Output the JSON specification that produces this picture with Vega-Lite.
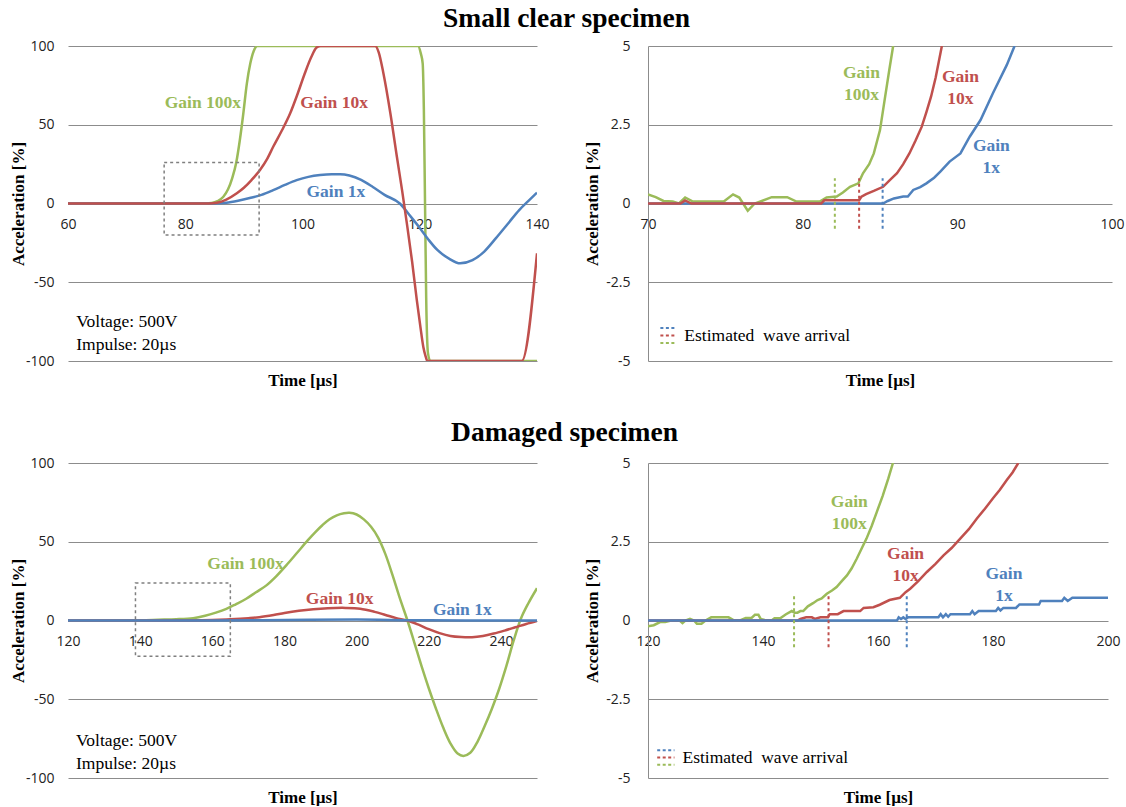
{
"$schema":"https://vega.github.io/schema/vega-lite/v6.json",
"background":"white",
"padding":{"left":9,"top":5,"right":0,"bottom":0},
"config":{
 "view":{"stroke":null},
 "font":"Liberation Serif",
 "axis":{"ticks":false,"labelFont":"Open Sans","labelFontSize":14,"labelColor":"#222","titleFont":"Liberation Serif","titleFontSize":17,"titleFontWeight":"bold","titleColor":"#000","domainColor":"#8c8c8c","gridColor":"#8c8c8c","gridWidth":1,"labelFlush":false},
 "title":{"font":"Liberation Serif","fontSize":27.5,"fontWeight":"bold","anchor":"middle","color":"#000"}
},
"datasets":{
 "tl":[
  {"t":60,"a":0,"g":"Gain 100x"},{"t":83.5,"a":0,"g":"Gain 100x"},{"t":84.5,"a":0.3,"g":"Gain 100x"},{"t":85.5,"a":1.5,"g":"Gain 100x"},{"t":86.5,"a":4.3,"g":"Gain 100x"},{"t":87.3,"a":9,"g":"Gain 100x"},{"t":88,"a":16,"g":"Gain 100x"},{"t":88.7,"a":26,"g":"Gain 100x"},{"t":89.3,"a":40,"g":"Gain 100x"},{"t":89.9,"a":57,"g":"Gain 100x"},{"t":90.5,"a":76,"g":"Gain 100x"},{"t":91.1,"a":89,"g":"Gain 100x"},{"t":91.7,"a":97,"g":"Gain 100x"},{"t":92.3,"a":100,"g":"Gain 100x"},{"t":119.7,"a":100,"g":"Gain 100x"},{"t":120.2,"a":95,"g":"Gain 100x"},{"t":120.5,"a":89,"g":"Gain 100x"},{"t":120.7,"a":60,"g":"Gain 100x"},{"t":120.9,"a":0,"g":"Gain 100x"},{"t":121.1,"a":-60,"g":"Gain 100x"},{"t":121.4,"a":-95,"g":"Gain 100x"},{"t":121.8,"a":-100,"g":"Gain 100x"},{"t":140,"a":-100,"g":"Gain 100x"},
  {"t":60,"a":0,"g":"Gain 1x"},{"t":85,"a":0,"g":"Gain 1x"},{"t":87,"a":0.5,"g":"Gain 1x"},{"t":89,"a":1.8,"g":"Gain 1x"},{"t":91,"a":3.5,"g":"Gain 1x"},{"t":93,"a":5.5,"g":"Gain 1x"},{"t":95,"a":8.5,"g":"Gain 1x"},{"t":97,"a":11.8,"g":"Gain 1x"},{"t":99,"a":14.8,"g":"Gain 1x"},{"t":101,"a":16.9,"g":"Gain 1x"},{"t":103,"a":18.1,"g":"Gain 1x"},{"t":105,"a":18.6,"g":"Gain 1x"},{"t":106.4,"a":18.6,"g":"Gain 1x"},{"t":108,"a":17.8,"g":"Gain 1x"},{"t":110,"a":15,"g":"Gain 1x"},{"t":112,"a":10.5,"g":"Gain 1x"},{"t":114,"a":5.5,"g":"Gain 1x"},{"t":116.6,"a":0,"g":"Gain 1x"},{"t":118.5,"a":-8.5,"g":"Gain 1x"},{"t":120,"a":-15.5,"g":"Gain 1x"},{"t":121.5,"a":-23,"g":"Gain 1x"},{"t":123,"a":-29.5,"g":"Gain 1x"},{"t":125,"a":-35,"g":"Gain 1x"},{"t":126.9,"a":-38,"g":"Gain 1x"},{"t":129,"a":-36,"g":"Gain 1x"},{"t":131,"a":-30.5,"g":"Gain 1x"},{"t":133,"a":-22,"g":"Gain 1x"},{"t":135,"a":-13,"g":"Gain 1x"},{"t":137,"a":-4,"g":"Gain 1x"},{"t":138.5,"a":1.5,"g":"Gain 1x"},{"t":140,"a":6.9,"g":"Gain 1x"},
  {"t":60,"a":0,"g":"Gain 10x"},{"t":84,"a":0,"g":"Gain 10x"},{"t":85.4,"a":0.5,"g":"Gain 10x"},{"t":87,"a":2.5,"g":"Gain 10x"},{"t":88.8,"a":6.5,"g":"Gain 10x"},{"t":90,"a":10,"g":"Gain 10x"},{"t":91.3,"a":14.9,"g":"Gain 10x"},{"t":92.75,"a":21.3,"g":"Gain 10x"},{"t":94,"a":28.5,"g":"Gain 10x"},{"t":95,"a":36,"g":"Gain 10x"},{"t":96.5,"a":46.5,"g":"Gain 10x"},{"t":97.9,"a":57.3,"g":"Gain 10x"},{"t":99.2,"a":70,"g":"Gain 10x"},{"t":100.4,"a":82.7,"g":"Gain 10x"},{"t":101.5,"a":93,"g":"Gain 10x"},{"t":102.4,"a":99,"g":"Gain 10x"},{"t":103.1,"a":100,"g":"Gain 10x"},{"t":112.4,"a":100,"g":"Gain 10x"},{"t":113,"a":96,"g":"Gain 10x"},{"t":113.8,"a":82.7,"g":"Gain 10x"},{"t":115,"a":57,"g":"Gain 10x"},{"t":116.1,"a":29.7,"g":"Gain 10x"},{"t":117,"a":8,"g":"Gain 10x"},{"t":117.8,"a":-12.6,"g":"Gain 10x"},{"t":118.7,"a":-37,"g":"Gain 10x"},{"t":119.5,"a":-61.3,"g":"Gain 10x"},{"t":120.1,"a":-78,"g":"Gain 10x"},{"t":120.6,"a":-90.9,"g":"Gain 10x"},{"t":121,"a":-97,"g":"Gain 10x"},{"t":121.3,"a":-100,"g":"Gain 10x"},{"t":137.4,"a":-100,"g":"Gain 10x"},{"t":140,"a":-31.6,"g":"Gain 10x"}
 ],
 "tr":[
  {"t":70,"a":0.29,"g":"Gain 100x"},{"t":70.5,"a":0.2,"g":"Gain 100x"},{"t":71,"a":0.08,"g":"Gain 100x"},{"t":71.6,"a":0.06,"g":"Gain 100x"},{"t":72,"a":0,"g":"Gain 100x"},{"t":72.4,"a":0.19,"g":"Gain 100x"},{"t":72.9,"a":0.06,"g":"Gain 100x"},{"t":74.9,"a":0.06,"g":"Gain 100x"},{"t":75.5,"a":0.29,"g":"Gain 100x"},{"t":75.9,"a":0.19,"g":"Gain 100x"},{"t":76.45,"a":-0.23,"g":"Gain 100x"},{"t":76.9,"a":0,"g":"Gain 100x"},{"t":78,"a":0.2,"g":"Gain 100x"},{"t":79,"a":0.2,"g":"Gain 100x"},{"t":79.6,"a":0.06,"g":"Gain 100x"},{"t":81.1,"a":0.06,"g":"Gain 100x"},{"t":81.55,"a":0.19,"g":"Gain 100x"},{"t":82.2,"a":0.22,"g":"Gain 100x"},{"t":82.6,"a":0.35,"g":"Gain 100x"},{"t":83.06,"a":0.53,"g":"Gain 100x"},{"t":83.6,"a":0.64,"g":"Gain 100x"},{"t":83.9,"a":0.96,"g":"Gain 100x"},{"t":84.3,"a":1.25,"g":"Gain 100x"},{"t":84.6,"a":1.59,"g":"Gain 100x"},{"t":85,"a":2.33,"g":"Gain 100x"},{"t":85.3,"a":3.29,"g":"Gain 100x"},{"t":85.6,"a":4.24,"g":"Gain 100x"},{"t":85.85,"a":5,"g":"Gain 100x"},
  {"t":70,"a":0,"g":"Gain 1x"},{"t":85.2,"a":0,"g":"Gain 1x"},{"t":85.5,"a":0.08,"g":"Gain 1x"},{"t":85.9,"a":0.16,"g":"Gain 1x"},{"t":86.5,"a":0.22,"g":"Gain 1x"},{"t":86.8,"a":0.22,"g":"Gain 1x"},{"t":87.15,"a":0.43,"g":"Gain 1x"},{"t":87.6,"a":0.52,"g":"Gain 1x"},{"t":88,"a":0.64,"g":"Gain 1x"},{"t":88.5,"a":0.82,"g":"Gain 1x"},{"t":88.9,"a":1.01,"g":"Gain 1x"},{"t":89.5,"a":1.33,"g":"Gain 1x"},{"t":90.2,"a":1.59,"g":"Gain 1x"},{"t":90.8,"a":2.12,"g":"Gain 1x"},{"t":91.5,"a":2.65,"g":"Gain 1x"},{"t":92.3,"a":3.5,"g":"Gain 1x"},{"t":93.2,"a":4.4,"g":"Gain 1x"},{"t":93.7,"a":5,"g":"Gain 1x"},
  {"t":70,"a":0,"g":"Gain 10x"},{"t":72.1,"a":0,"g":"Gain 10x"},{"t":72.4,"a":0.1,"g":"Gain 10x"},{"t":72.8,"a":0,"g":"Gain 10x"},{"t":81.2,"a":0,"g":"Gain 10x"},{"t":81.4,"a":0.1,"g":"Gain 10x"},{"t":83.65,"a":0.1,"g":"Gain 10x"},{"t":83.8,"a":0.22,"g":"Gain 10x"},{"t":84.1,"a":0.3,"g":"Gain 10x"},{"t":84.6,"a":0.4,"g":"Gain 10x"},{"t":85.2,"a":0.53,"g":"Gain 10x"},{"t":85.65,"a":0.75,"g":"Gain 10x"},{"t":86.1,"a":0.96,"g":"Gain 10x"},{"t":86.5,"a":1.25,"g":"Gain 10x"},{"t":86.9,"a":1.59,"g":"Gain 10x"},{"t":87.3,"a":2,"g":"Gain 10x"},{"t":87.7,"a":2.44,"g":"Gain 10x"},{"t":88,"a":2.9,"g":"Gain 10x"},{"t":88.3,"a":3.39,"g":"Gain 10x"},{"t":88.6,"a":4,"g":"Gain 10x"},{"t":89,"a":5,"g":"Gain 10x"}
 ],
 "bl":[
  {"t":120,"a":0,"g":"Gain 100x"},{"t":140,"a":0.2,"g":"Gain 100x"},{"t":145,"a":0.5,"g":"Gain 100x"},{"t":150,"a":0.8,"g":"Gain 100x"},{"t":154.7,"a":1.5,"g":"Gain 100x"},{"t":158,"a":3,"g":"Gain 100x"},{"t":161,"a":5,"g":"Gain 100x"},{"t":163.9,"a":7.4,"g":"Gain 100x"},{"t":166.5,"a":10.3,"g":"Gain 100x"},{"t":169.4,"a":13.8,"g":"Gain 100x"},{"t":172,"a":17.8,"g":"Gain 100x"},{"t":175,"a":22.3,"g":"Gain 100x"},{"t":177.7,"a":28,"g":"Gain 100x"},{"t":180.5,"a":35,"g":"Gain 100x"},{"t":183.5,"a":43,"g":"Gain 100x"},{"t":186.5,"a":51,"g":"Gain 100x"},{"t":188.5,"a":56,"g":"Gain 100x"},{"t":190.5,"a":60.5,"g":"Gain 100x"},{"t":192.5,"a":64.3,"g":"Gain 100x"},{"t":194.5,"a":66.8,"g":"Gain 100x"},{"t":196.5,"a":68.1,"g":"Gain 100x"},{"t":198,"a":68.4,"g":"Gain 100x"},{"t":200,"a":67.3,"g":"Gain 100x"},{"t":202,"a":64.2,"g":"Gain 100x"},{"t":204,"a":59.5,"g":"Gain 100x"},{"t":206,"a":52.5,"g":"Gain 100x"},{"t":208,"a":42,"g":"Gain 100x"},{"t":210,"a":28.5,"g":"Gain 100x"},{"t":212,"a":14,"g":"Gain 100x"},{"t":214.1,"a":0,"g":"Gain 100x"},{"t":216,"a":-14,"g":"Gain 100x"},{"t":218,"a":-29,"g":"Gain 100x"},{"t":220,"a":-43,"g":"Gain 100x"},{"t":222,"a":-56,"g":"Gain 100x"},{"t":224,"a":-68,"g":"Gain 100x"},{"t":226,"a":-78,"g":"Gain 100x"},{"t":228,"a":-84.5,"g":"Gain 100x"},{"t":229.6,"a":-86,"g":"Gain 100x"},{"t":231.5,"a":-84,"g":"Gain 100x"},{"t":233.5,"a":-77,"g":"Gain 100x"},{"t":235.5,"a":-67,"g":"Gain 100x"},{"t":237.5,"a":-56,"g":"Gain 100x"},{"t":239.5,"a":-43.5,"g":"Gain 100x"},{"t":241.5,"a":-29,"g":"Gain 100x"},{"t":243.5,"a":-13,"g":"Gain 100x"},{"t":245.5,"a":1,"g":"Gain 100x"},{"t":247.5,"a":10.5,"g":"Gain 100x"},{"t":250,"a":20.5,"g":"Gain 100x"},
  {"t":120,"a":0,"g":"Gain 10x"},{"t":160,"a":0.3,"g":"Gain 10x"},{"t":165,"a":0.8,"g":"Gain 10x"},{"t":170,"a":1.5,"g":"Gain 10x"},{"t":173,"a":2.1,"g":"Gain 10x"},{"t":177,"a":3.5,"g":"Gain 10x"},{"t":180,"a":4.8,"g":"Gain 10x"},{"t":184,"a":6.2,"g":"Gain 10x"},{"t":188,"a":7.2,"g":"Gain 10x"},{"t":192,"a":7.8,"g":"Gain 10x"},{"t":197,"a":8,"g":"Gain 10x"},{"t":201,"a":7.5,"g":"Gain 10x"},{"t":205,"a":5.5,"g":"Gain 10x"},{"t":208,"a":3.5,"g":"Gain 10x"},{"t":211,"a":1.5,"g":"Gain 10x"},{"t":214,"a":0,"g":"Gain 10x"},{"t":217,"a":-2.5,"g":"Gain 10x"},{"t":220,"a":-5.5,"g":"Gain 10x"},{"t":223,"a":-8,"g":"Gain 10x"},{"t":226,"a":-9.8,"g":"Gain 10x"},{"t":229,"a":-10.5,"g":"Gain 10x"},{"t":232,"a":-10.6,"g":"Gain 10x"},{"t":235,"a":-9.8,"g":"Gain 10x"},{"t":238,"a":-8.3,"g":"Gain 10x"},{"t":241,"a":-6.4,"g":"Gain 10x"},{"t":244,"a":-4.3,"g":"Gain 10x"},{"t":247,"a":-2.2,"g":"Gain 10x"},{"t":250,"a":-0.3,"g":"Gain 10x"},
  {"t":120,"a":0,"g":"Gain 1x"},{"t":160,"a":0,"g":"Gain 1x"},{"t":180,"a":0.3,"g":"Gain 1x"},{"t":200,"a":0.6,"g":"Gain 1x"},{"t":215,"a":0.2,"g":"Gain 1x"},{"t":230,"a":0,"g":"Gain 1x"},{"t":250,"a":0,"g":"Gain 1x"}
 ],
 "br":[
  {"t":120,"a":-0.18,"g":"Gain 100x"},{"t":121,"a":-0.15,"g":"Gain 100x"},{"t":122.1,"a":-0.05,"g":"Gain 100x"},{"t":123,"a":-0.05,"g":"Gain 100x"},{"t":124,"a":0,"g":"Gain 100x"},{"t":125.5,"a":0,"g":"Gain 100x"},{"t":126,"a":-0.08,"g":"Gain 100x"},{"t":126.5,"a":0,"g":"Gain 100x"},{"t":127.3,"a":0.05,"g":"Gain 100x"},{"t":128,"a":0,"g":"Gain 100x"},{"t":128.5,"a":-0.1,"g":"Gain 100x"},{"t":129.3,"a":-0.1,"g":"Gain 100x"},{"t":130,"a":0,"g":"Gain 100x"},{"t":131,"a":0.1,"g":"Gain 100x"},{"t":134,"a":0.1,"g":"Gain 100x"},{"t":134.5,"a":0.05,"g":"Gain 100x"},{"t":135,"a":0,"g":"Gain 100x"},{"t":136,"a":0,"g":"Gain 100x"},{"t":137,"a":0.08,"g":"Gain 100x"},{"t":138,"a":0.08,"g":"Gain 100x"},{"t":138.6,"a":0.18,"g":"Gain 100x"},{"t":139.2,"a":0.18,"g":"Gain 100x"},{"t":139.6,"a":0.05,"g":"Gain 100x"},{"t":140.3,"a":0.02,"g":"Gain 100x"},{"t":141.5,"a":0,"g":"Gain 100x"},{"t":142,"a":0.07,"g":"Gain 100x"},{"t":143,"a":0.07,"g":"Gain 100x"},{"t":144,"a":0.2,"g":"Gain 100x"},{"t":145,"a":0.3,"g":"Gain 100x"},{"t":145.5,"a":0.25,"g":"Gain 100x"},{"t":146,"a":0.25,"g":"Gain 100x"},{"t":146.5,"a":0.3,"g":"Gain 100x"},{"t":147,"a":0.3,"g":"Gain 100x"},{"t":147.8,"a":0.45,"g":"Gain 100x"},{"t":148.7,"a":0.55,"g":"Gain 100x"},{"t":149.5,"a":0.65,"g":"Gain 100x"},{"t":150.2,"a":0.7,"g":"Gain 100x"},{"t":151.1,"a":0.85,"g":"Gain 100x"},{"t":152,"a":0.95,"g":"Gain 100x"},{"t":152.8,"a":1.06,"g":"Gain 100x"},{"t":153.7,"a":1.25,"g":"Gain 100x"},{"t":154.6,"a":1.43,"g":"Gain 100x"},{"t":155.4,"a":1.65,"g":"Gain 100x"},{"t":156.3,"a":1.96,"g":"Gain 100x"},{"t":157.2,"a":2.3,"g":"Gain 100x"},{"t":158,"a":2.6,"g":"Gain 100x"},{"t":158.9,"a":3,"g":"Gain 100x"},{"t":159.8,"a":3.45,"g":"Gain 100x"},{"t":160.8,"a":3.95,"g":"Gain 100x"},{"t":161.8,"a":4.51,"g":"Gain 100x"},{"t":162.6,"a":5,"g":"Gain 100x"},
  {"t":120,"a":0,"g":"Gain 10x"},{"t":146,"a":0,"g":"Gain 10x"},{"t":146.5,"a":0.05,"g":"Gain 10x"},{"t":147.5,"a":0.1,"g":"Gain 10x"},{"t":148.5,"a":0.1,"g":"Gain 10x"},{"t":149,"a":0.05,"g":"Gain 10x"},{"t":150,"a":0.1,"g":"Gain 10x"},{"t":151.3,"a":0.1,"g":"Gain 10x"},{"t":151.6,"a":0.2,"g":"Gain 10x"},{"t":153,"a":0.2,"g":"Gain 10x"},{"t":154,"a":0.3,"g":"Gain 10x"},{"t":156.9,"a":0.3,"g":"Gain 10x"},{"t":157.5,"a":0.4,"g":"Gain 10x"},{"t":159.2,"a":0.42,"g":"Gain 10x"},{"t":160.3,"a":0.5,"g":"Gain 10x"},{"t":162,"a":0.65,"g":"Gain 10x"},{"t":163.8,"a":0.72,"g":"Gain 10x"},{"t":164.8,"a":0.9,"g":"Gain 10x"},{"t":165.6,"a":1.01,"g":"Gain 10x"},{"t":167,"a":1.25,"g":"Gain 10x"},{"t":168.5,"a":1.54,"g":"Gain 10x"},{"t":170,"a":1.8,"g":"Gain 10x"},{"t":171.4,"a":2.07,"g":"Gain 10x"},{"t":172.8,"a":2.3,"g":"Gain 10x"},{"t":174.3,"a":2.6,"g":"Gain 10x"},{"t":175.8,"a":2.9,"g":"Gain 10x"},{"t":177.2,"a":3.24,"g":"Gain 10x"},{"t":178.6,"a":3.55,"g":"Gain 10x"},{"t":180,"a":3.88,"g":"Gain 10x"},{"t":181.2,"a":4.15,"g":"Gain 10x"},{"t":182.4,"a":4.46,"g":"Gain 10x"},{"t":183.4,"a":4.7,"g":"Gain 10x"},{"t":184.4,"a":5,"g":"Gain 10x"},
  {"t":120,"a":0,"g":"Gain 1x"},{"t":163.3,"a":0,"g":"Gain 1x"},{"t":163.6,"a":0.1,"g":"Gain 1x"},{"t":164,"a":0.05,"g":"Gain 1x"},{"t":164.4,"a":0.1,"g":"Gain 1x"},{"t":164.8,"a":0.05,"g":"Gain 1x"},{"t":165.2,"a":0.1,"g":"Gain 1x"},{"t":170.5,"a":0.1,"g":"Gain 1x"},{"t":170.9,"a":0.2,"g":"Gain 1x"},{"t":171.3,"a":0.1,"g":"Gain 1x"},{"t":171.8,"a":0.2,"g":"Gain 1x"},{"t":172.2,"a":0.12,"g":"Gain 1x"},{"t":172.6,"a":0.2,"g":"Gain 1x"},{"t":176,"a":0.2,"g":"Gain 1x"},{"t":176.4,"a":0.3,"g":"Gain 1x"},{"t":176.8,"a":0.2,"g":"Gain 1x"},{"t":177.5,"a":0.3,"g":"Gain 1x"},{"t":180.5,"a":0.3,"g":"Gain 1x"},{"t":180.9,"a":0.4,"g":"Gain 1x"},{"t":181.3,"a":0.32,"g":"Gain 1x"},{"t":181.8,"a":0.4,"g":"Gain 1x"},{"t":184,"a":0.4,"g":"Gain 1x"},{"t":184.6,"a":0.51,"g":"Gain 1x"},{"t":188,"a":0.51,"g":"Gain 1x"},{"t":188.3,"a":0.62,"g":"Gain 1x"},{"t":192,"a":0.62,"g":"Gain 1x"},{"t":192.4,"a":0.72,"g":"Gain 1x"},{"t":193,"a":0.62,"g":"Gain 1x"},{"t":193.8,"a":0.72,"g":"Gain 1x"},{"t":200,"a":0.72,"g":"Gain 1x"}
 ],
 "tlLab":[{"t":83,"a":63.8,"label":"Gain 100x","g":"Gain 100x"},{"t":105.4,"a":63.8,"label":"Gain 10x","g":"Gain 10x"},{"t":105.7,"a":7.3,"label":"Gain 1x","g":"Gain 1x"}],
 "trLab":[{"t":83.8,"a":4.14,"label":"Gain\n100x","g":"Gain 100x"},{"t":90.2,"a":4.03,"label":"Gain\n10x","g":"Gain 10x"},{"t":92.2,"a":1.83,"label":"Gain\n1x","g":"Gain 1x"}],
 "blLab":[{"t":169.2,"a":35.7,"label":"Gain 100x","g":"Gain 100x"},{"t":195.3,"a":13.4,"label":"Gain 10x","g":"Gain 10x"},{"t":229.3,"a":6.4,"label":"Gain 1x","g":"Gain 1x"}],
 "brLab":[{"t":155,"a":3.75,"label":"Gain\n100x","g":"Gain 100x"},{"t":164.8,"a":2.12,"label":"Gain\n10x","g":"Gain 10x"},{"t":181.9,"a":1.47,"label":"Gain\n1x","g":"Gain 1x"}],
 "trArr":[{"t":82.08,"a":-0.8,"a2":0.8,"g":"Gain 100x"},{"t":83.65,"a":-0.8,"a2":0.8,"g":"Gain 10x"},{"t":85.17,"a":-0.8,"a2":0.8,"g":"Gain 1x"}],
 "brArr":[{"t":145.4,"a":-0.85,"a2":0.78,"g":"Gain 100x"},{"t":151.4,"a":-0.85,"a2":0.78,"g":"Gain 10x"},{"t":165,"a":-0.85,"a2":0.78,"g":"Gain 1x"}],
 "trLeg":[{"t":70.8,"t2":71.8,"a":-3.95,"g":"Gain 1x"},{"t":70.8,"t2":71.8,"a":-4.19,"g":"Gain 10x"},{"t":70.8,"t2":71.8,"a":-4.43,"g":"Gain 100x"}],
 "brLeg":[{"t":121.6,"t2":124.6,"a":-4.12,"g":"Gain 1x"},{"t":121.6,"t2":124.6,"a":-4.35,"g":"Gain 10x"},{"t":121.6,"t2":124.6,"a":-4.58,"g":"Gain 100x"}]
},
"spacing":30,
"vconcat":[
 {"title":{"text":"Small clear specimen","offset":6.5},"spacing":33,"hconcat":[
  {"width":469,"height":315,
   "encoding":{
    "x":{"field":"t","type":"quantitative","scale":{"domain":[60,140],"nice":false,"zero":false},"axis":{"values":[60,80,100,120,140],"offset":-157.5,"grid":false,"domain":false,"labelPadding":14,"title":"Time [µs]","titleY":177,"titleBaseline":"middle"}},
    "y":{"field":"a","type":"quantitative","scale":{"domain":[-100,100],"nice":false},"axis":{"values":[-100,-50,0,50,100],"grid":true,"domain":false,"labelPadding":14,"title":"Acceleration [%]","titleX":-50,"titleBaseline":"middle","labelExpr":"datum.value < 0 ? '-' + (-datum.value) : '' + datum.value"}}
   },
   "layer":[
    {"data":{"name":"tl"},"mark":{"type":"line","strokeWidth":2.5,"clip":true,"interpolate":"monotone"},"encoding":{"color":{"field":"g","type":"nominal","scale":{"domain":["Gain 1x","Gain 10x","Gain 100x"],"range":["#4F81BD","#C0504D","#9BBB59"]},"legend":null}}},
    {"data":{"values":[{"t":76.4,"t2":92.6,"a":-20,"a2":26}]},"mark":{"type":"rect","fillOpacity":0,"stroke":"#7f7f7f","strokeWidth":1.5,"strokeDash":[3,3]},"encoding":{"x2":{"field":"t2"},"y2":{"field":"a2"}}},
    {"data":{"name":"tlLab"},"mark":{"type":"text","font":"Liberation Serif","fontWeight":"bold","fontSize":17.5},"encoding":{"text":{"field":"label"},"color":{"field":"g","type":"nominal","scale":{"domain":["Gain 1x","Gain 10x","Gain 100x"],"range":["#4F81BD","#C0504D","#9BBB59"]},"legend":null}}},
    {"data":{"values":[{"t":61.4,"a":-75.2,"label":"Voltage: 500V\nImpulse: 20µs"}]},"mark":{"type":"text","font":"Liberation Serif","fontSize":17.5,"align":"left","lineBreak":"\n","lineHeight":23,"color":"#000"},"encoding":{"text":{"field":"label"}}}
   ]},
  {"width":464,"height":315,
   "encoding":{
    "x":{"field":"t","type":"quantitative","scale":{"domain":[70,100],"nice":false,"zero":false},"axis":{"values":[70,80,90,100],"offset":-157.5,"grid":false,"domain":false,"labelPadding":14,"title":"Time [µs]","titleY":177,"titleBaseline":"middle"}},
    "y":{"field":"a","type":"quantitative","scale":{"domain":[-5,5],"nice":false},"axis":{"values":[-5,-2.5,0,2.5,5],"grid":true,"domain":true,"labelPadding":18,"title":"Acceleration [%]","titleX":-55.5,"titleBaseline":"middle","labelExpr":"datum.value < 0 ? '-' + (-datum.value) : '' + datum.value"}}
   },
   "layer":[
    {"data":{"name":"tr"},"mark":{"type":"line","strokeWidth":2.5,"clip":true},"encoding":{"color":{"field":"g","type":"nominal","scale":{"domain":["Gain 1x","Gain 10x","Gain 100x"],"range":["#4F81BD","#C0504D","#9BBB59"]},"legend":null}}},
    {"data":{"name":"trArr"},"mark":{"type":"rule","strokeWidth":2,"strokeDash":[3,3]},"encoding":{"y2":{"field":"a2"},"color":{"field":"g","type":"nominal","scale":{"domain":["Gain 1x","Gain 10x","Gain 100x"],"range":["#4F81BD","#C0504D","#9BBB59"]},"legend":null}}},
    {"data":{"name":"trLeg"},"mark":{"type":"rule","strokeWidth":2,"strokeDash":[3,2.5]},"encoding":{"x2":{"field":"t2"},"color":{"field":"g","type":"nominal","scale":{"domain":["Gain 1x","Gain 10x","Gain 100x"],"range":["#4F81BD","#C0504D","#9BBB59"]},"legend":null}}},
    {"data":{"name":"trLab"},"mark":{"type":"text","font":"Liberation Serif","fontWeight":"bold","fontSize":17.5,"lineBreak":"\n","lineHeight":22},"encoding":{"text":{"field":"label"},"color":{"field":"g","type":"nominal","scale":{"domain":["Gain 1x","Gain 10x","Gain 100x"],"range":["#4F81BD","#C0504D","#9BBB59"]},"legend":null}}},
    {"data":{"values":[{"t":72.35,"a":-4.2,"label":"Estimated\u00a0 wave arrival"}]},"mark":{"type":"text","font":"Liberation Serif","fontSize":17.5,"align":"left","color":"#000"},"encoding":{"text":{"field":"label"}}}
   ]}
 ]},
 {"title":{"text":"Damaged specimen","offset":9.5},"spacing":46,"hconcat":[
  {"width":469,"height":315,
   "encoding":{
    "x":{"field":"t","type":"quantitative","scale":{"domain":[120,250],"nice":false,"zero":false},"axis":{"values":[120,140,160,180,200,220,240],"offset":-157.5,"grid":false,"domain":false,"labelPadding":14,"title":"Time [µs]","titleY":177,"titleBaseline":"middle"}},
    "y":{"field":"a","type":"quantitative","scale":{"domain":[-100,100],"nice":false},"axis":{"values":[-100,-50,0,50,100],"grid":true,"domain":false,"labelPadding":14,"title":"Acceleration [%]","titleX":-50,"titleBaseline":"middle","labelExpr":"datum.value < 0 ? '-' + (-datum.value) : '' + datum.value"}}
   },
   "layer":[
    {"data":{"name":"bl"},"mark":{"type":"line","strokeWidth":2.5,"clip":true,"interpolate":"catmull-rom"},"encoding":{"color":{"field":"g","type":"nominal","scale":{"domain":["Gain 1x","Gain 10x","Gain 100x"],"range":["#4F81BD","#C0504D","#9BBB59"]},"legend":null}}},
    {"data":{"values":[{"t":138.7,"t2":165,"a":-22.7,"a2":23.8}]},"mark":{"type":"rect","fillOpacity":0,"stroke":"#7f7f7f","strokeWidth":1.5,"strokeDash":[3,3]},"encoding":{"x2":{"field":"t2"},"y2":{"field":"a2"}}},
    {"data":{"name":"blLab"},"mark":{"type":"text","font":"Liberation Serif","fontWeight":"bold","fontSize":17.5},"encoding":{"text":{"field":"label"},"color":{"field":"g","type":"nominal","scale":{"domain":["Gain 1x","Gain 10x","Gain 100x"],"range":["#4F81BD","#C0504D","#9BBB59"]},"legend":null}}},
    {"data":{"values":[{"t":122.2,"a":-76.4,"label":"Voltage: 500V\nImpulse: 20µs"}]},"mark":{"type":"text","font":"Liberation Serif","fontSize":17.5,"align":"left","lineBreak":"\n","lineHeight":23,"color":"#000"},"encoding":{"text":{"field":"label"}}}
   ]},
  {"width":460,"height":315,
   "encoding":{
    "x":{"field":"t","type":"quantitative","scale":{"domain":[120,200],"nice":false,"zero":false},"axis":{"values":[120,140,160,180,200],"offset":-157.5,"grid":false,"domain":false,"labelPadding":14,"title":"Time [µs]","titleY":177,"titleBaseline":"middle"}},
    "y":{"field":"a","type":"quantitative","scale":{"domain":[-5,5],"nice":false},"axis":{"values":[-5,-2.5,0,2.5,5],"grid":true,"domain":true,"labelPadding":18,"title":"Acceleration [%]","titleX":-55.5,"titleBaseline":"middle","labelExpr":"datum.value < 0 ? '-' + (-datum.value) : '' + datum.value"}}
   },
   "layer":[
    {"data":{"name":"br"},"mark":{"type":"line","strokeWidth":2.5,"clip":true},"encoding":{"color":{"field":"g","type":"nominal","scale":{"domain":["Gain 1x","Gain 10x","Gain 100x"],"range":["#4F81BD","#C0504D","#9BBB59"]},"legend":null}}},
    {"data":{"name":"brArr"},"mark":{"type":"rule","strokeWidth":2,"strokeDash":[3,3]},"encoding":{"y2":{"field":"a2"},"color":{"field":"g","type":"nominal","scale":{"domain":["Gain 1x","Gain 10x","Gain 100x"],"range":["#4F81BD","#C0504D","#9BBB59"]},"legend":null}}},
    {"data":{"name":"brLeg"},"mark":{"type":"rule","strokeWidth":2,"strokeDash":[3,2.5]},"encoding":{"x2":{"field":"t2"},"color":{"field":"g","type":"nominal","scale":{"domain":["Gain 1x","Gain 10x","Gain 100x"],"range":["#4F81BD","#C0504D","#9BBB59"]},"legend":null}}},
    {"data":{"name":"brLab"},"mark":{"type":"text","font":"Liberation Serif","fontWeight":"bold","fontSize":17.5,"lineBreak":"\n","lineHeight":22},"encoding":{"text":{"field":"label"},"color":{"field":"g","type":"nominal","scale":{"domain":["Gain 1x","Gain 10x","Gain 100x"],"range":["#4F81BD","#C0504D","#9BBB59"]},"legend":null}}},
    {"data":{"values":[{"t":126,"a":-4.35,"label":"Estimated\u00a0 wave arrival"}]},"mark":{"type":"text","font":"Liberation Serif","fontSize":17.5,"align":"left","color":"#000"},"encoding":{"text":{"field":"label"}}}
   ]}
 ]}
]
}
